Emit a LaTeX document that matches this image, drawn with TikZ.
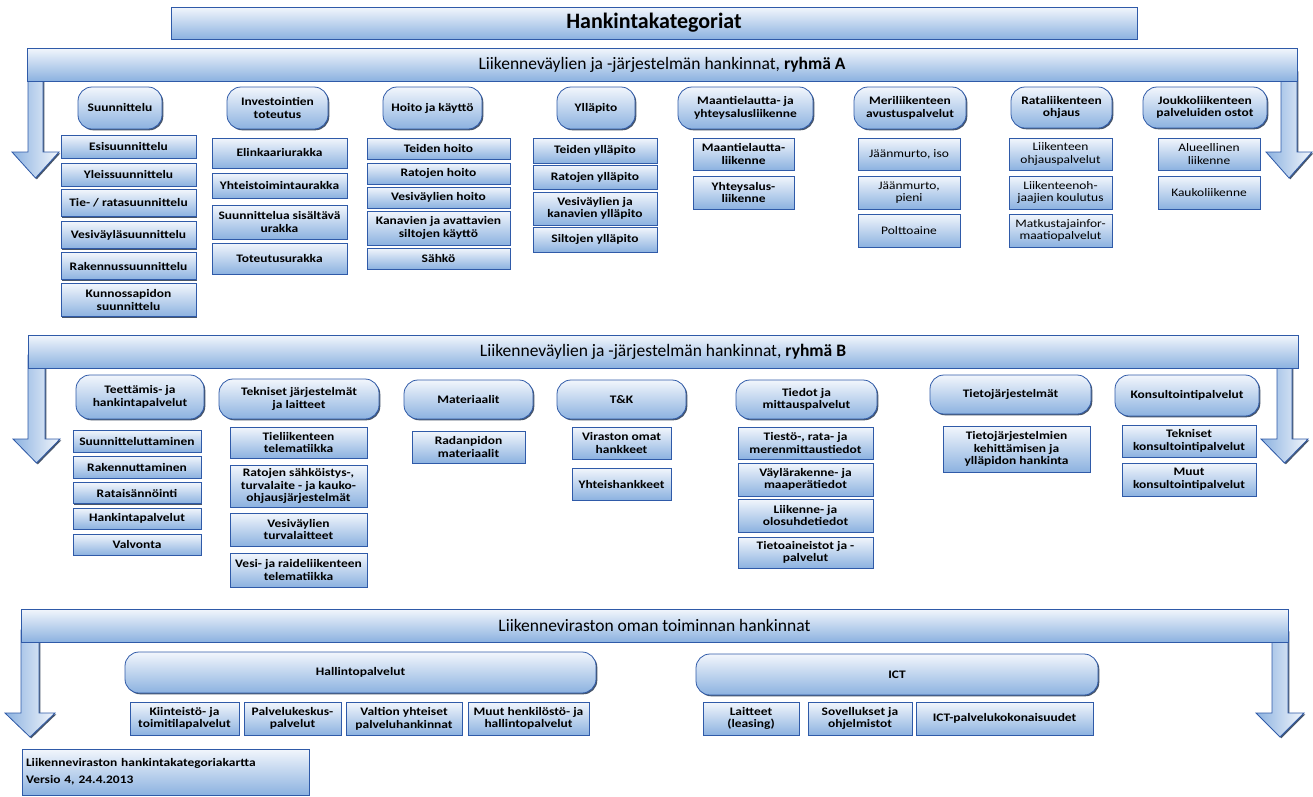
\documentclass[tikz,border=0pt]{standalone}
\usepackage{fontspec}
\setmainfont{Carlito}
\newfontfamily\widefont{Carlito}[FakeStretch=1.17]
\usetikzlibrary{shadows}
\definecolor{boxtop}{RGB}{242,246,252}
\definecolor{boxbot}{RGB}{140,178,224}
\definecolor{boxline}{RGB}{47,90,168}
\definecolor{boxshadow}{RGB}{72,86,106}

\begin{document}
\begin{tikzpicture}[x=1pt,y=-1pt]
	\tikzset{box/.style = {draw=boxline, line width=0.8pt, top color=boxtop, bottom color=boxbot,
			align=center, inner sep=1pt,
			drop shadow={shadow xshift=1.3pt, shadow yshift=-1.3pt, fill=boxshadow, opacity=1}}}
	\tikzset{sz/.style 2 args = {minimum width=#1pt, minimum height=#2pt}}
	\tikzset{bar/.style = {box, font=\fontsize{17.5}{20}\selectfont}}
	\tikzset{cat/.style = {box, rounded corners=14pt, font=\widefont\fontsize{11.5}{12.7}\selectfont\bfseries}}
	\tikzset{leaf/.style = {box, font=\widefont\fontsize{11.5}{12.7}\selectfont\bfseries}}
	\tikzset{leafr/.style = {box, font=\widefont\fontsize{11.5}{12.7}\selectfont}}
	\tikzset{bararrow/.style = {draw=boxline, line width=0.8pt, left color=boxbot, right color=boxtop,
			drop shadow={shadow xshift=1.3pt, shadow yshift=-1.3pt, fill=boxshadow, opacity=1}}}
	\useasboundingbox (0,0) rectangle (1313,796);
    % arrows at the ends of the bars
    \draw[bararrow] (28,70) -- (43,70) -- (43,152) -- (59,152) -- (35.5,178) -- (12,152) -- (28,152) -- cycle;
    \draw[bararrow] (1281,70) -- (1297,70) -- (1297,152) -- (1312,152) -- (1289,178) -- (1266,152) -- (1281,152) -- cycle;
    \draw[bararrow] (28,355) -- (45,355) -- (45,439) -- (60,439) -- (36.5,463) -- (13,439) -- (28,439) -- cycle;
    \draw[bararrow] (1277,355) -- (1292,355) -- (1292,439) -- (1308,439) -- (1284.5,463) -- (1261,439) -- (1277,439) -- cycle;
    \draw[bararrow] (21,630) -- (39,630) -- (39,713) -- (55,713) -- (30,737) -- (5,713) -- (21,713) -- cycle;
    \draw[bararrow] (1272,630) -- (1288,630) -- (1288,713) -- (1304,713) -- (1280,737) -- (1256,713) -- (1272,713) -- cycle;
    % bars
    \node[bar, sz={966}{32}, font=\fontsize{22}{24}\selectfont\bfseries] (title) at (654,23) {Hankintakategoriat};
    \node[bar, sz={1270}{33}] (barA) at (662,64.5) {Liikenneväylien ja -järjestelmän hankinnat, \textbf{ryhmä A}};
    \node[bar, sz={1270}{33}] (barB) at (663,351.5) {Liikenneväylien ja -järjestelmän hankinnat, \textbf{ryhmä B}};
    \node[bar, sz={1267}{33}] (barC) at (654.5,625.5) {Liikenneviraston oman toiminnan hankinnat};
    % group A
    \node[cat, sz={84}{42}] (suun) at (120,108) {Suunnittelu};
    \node[cat, sz={101}{42}] (inv) at (277.5,108) {Investointien\\toteutus};
    \node[cat, sz={99}{42}] (hoito) at (432.5,108) {Hoito ja käyttö};
    \node[cat, sz={78}{42}] (yllap) at (596,108) {Ylläpito};
    \node[cat, sz={135}{42}] (maant) at (745.5,108) {Maantielautta- ja\\yhteysalusliikenne};
    \node[cat, sz={112}{42}] (meri) at (910,108) {Meriliikenteen\\avustuspalvelut};
    \node[cat, sz={101}{41}] (rata) at (1061.5,107.5) {Rataliikenteen\\ohjaus};
    \node[cat, sz={124}{41}] (jouk) at (1205,107.5) {Joukkoliikenteen\\palveluiden ostot};
    \node[leaf, sz={135}{23}] (esi) at (128.5,146.5) {Esisuunnittelu};
    \node[leaf, sz={135}{23}] (yleis) at (128.5,174.5) {Yleissuunnittelu};
    \node[leaf, sz={135}{27}] (tie) at (128.5,203) {Tie- / ratasuunnittelu};
    \node[leaf, sz={135}{27}] (vesis) at (128.5,235) {Vesiväyläsuunnittelu};
    \node[leaf, sz={135}{27}] (raks) at (128.5,266) {Rakennussuunnittelu};
    \node[leaf, sz={135}{33}] (kunn) at (128.5,300) {Kunnossapidon\\suunnittelu};
    \node[leaf, sz={135}{30}] (elin) at (279.5,153) {Elinkaariurakka};
    \node[leaf, sz={135}{25}] (yhtu) at (279.5,185.5) {Yhteistoimintaurakka};
    \node[leaf, sz={135}{34}] (suunu) at (279.5,222) {Suunnittelua sisältävä\\urakka};
    \node[leaf, sz={135}{31}] (totu) at (279.5,258.5) {Toteutusurakka};
    \node[leaf, sz={143}{21}] (teidh) at (438.5,148.5) {Teiden hoito};
    \node[leaf, sz={143}{21}] (ratoh) at (438.5,173.5) {Ratojen hoito};
    \node[leaf, sz={143}{21}] (vesih) at (438.5,197.5) {Vesiväylien hoito};
    \node[leaf, sz={143}{34}] (kana) at (438.5,228) {Kanavien ja avattavien\\siltojen käyttö};
    \node[leaf, sz={143}{21}] (sahko) at (438.5,258.5) {Sähkö};
    \node[leaf, sz={124}{25}] (teidy) at (595,150.5) {Teiden ylläpito};
    \node[leaf, sz={124}{24}] (ratoy) at (595,177) {Ratojen ylläpito};
    \node[leaf, sz={124}{33}] (vesiy) at (595,208.5) {Vesiväylien ja\\kanavien ylläpito};
    \node[leaf, sz={124}{25}] (silty) at (595,239.5) {Siltojen ylläpito};
    \node[leaf, sz={101}{32}] (maal) at (743.5,154) {Maantielautta-\\liikenne};
    \node[leaf, sz={101}{33}] (yhtsl) at (743.5,192.5) {Yhteysalus-\\liikenne};
    \node[leafr, sz={102}{32}] (jiso) at (909,154) {Jäänmurto, iso};
    \node[leafr, sz={102}{33}] (jpie) at (909,192.5) {Jäänmurto,\\pieni};
    \node[leafr, sz={102}{33}] (polt) at (909,230.5) {Polttoaine};
    \node[leafr, sz={103}{32}] (liio) at (1060.5,154) {Liikenteen\\ohjauspalvelut};
    \node[leafr, sz={103}{33}] (liik) at (1060.5,192.5) {Liikenteenoh-\\jaajien koulutus};
    \node[leafr, sz={103}{33}] (matk) at (1060.5,230.5) {Matkustajainfor-\\maatiopalvelut};
    \node[leafr, sz={102}{32}] (alue) at (1209,154) {Alueellinen\\liikenne};
    \node[leafr, sz={102}{33}] (kauk) at (1209,192.5) {Kaukoliikenne};
    % group B
    \node[cat, sz={128}{44}] (teet) at (140,397) {Teettämis- ja\\hankintapalvelut};
    \node[cat, sz={160}{40}] (tekn) at (299,399) {Tekniset järjestelmät\\ja laitteet};
    \node[cat, sz={129}{39}] (mate) at (468.5,399.5) {Materiaalit};
    \node[cat, sz={129}{39}] (tk) at (621.5,399.5) {T\&K};
    \node[cat, sz={141}{39}] (tied) at (806.5,399.5) {Tiedot ja\\mittauspalvelut};
    \node[cat, sz={161}{39}] (tjar) at (1010.5,394.5) {Tietojärjestelmät};
    \node[cat, sz={144}{41}] (kons) at (1187,395.5) {Konsultointipalvelut};
    \node[leaf, sz={128}{22}] (suut) at (137,441) {Suunnitteluttaminen};
    \node[leaf, sz={128}{22}] (rakt) at (137,467) {Rakennuttaminen};
    \node[leaf, sz={128}{21}] (rati) at (137,493) {Rataisännöinti};
    \node[leaf, sz={128}{21}] (hankp) at (137,518.5) {Hankintapalvelut};
    \node[leaf, sz={128}{21}] (valv) at (137,544.5) {Valvonta};
    \node[leaf, sz={137}{31}] (tiel) at (298.5,442.5) {Tieliikenteen\\telematiikka};
    \node[leaf, sz={137}{42}] (ratsa) at (298.5,486) {Ratojen sähköistys-,\\turvalaite - ja kauko-\\ohjausjärjestelmät};
    \node[leaf, sz={137}{33}] (vest) at (298.5,529.5) {Vesiväylien\\turvalaitteet};
    \node[leaf, sz={137}{34}] (vesr) at (298.5,570) {Vesi- ja raideliikenteen\\telematiikka};
    \node[leaf, sz={113}{32}] (radm) at (468.5,447) {Radanpidon\\materiaalit};
    \node[leaf, sz={99}{32}] (viro) at (621.5,443) {Viraston omat\\hankkeet};
    \node[leaf, sz={99}{32}] (yhth) at (621.5,484) {Yhteishankkeet};
    \node[leaf, sz={135}{32}] (ties) at (805.5,443) {Tiestö-, rata- ja\\merenmittaustiedot};
    \node[leaf, sz={135}{33}] (vayl) at (805.5,479.5) {Väylärakenne- ja\\maaperätiedot};
    \node[leaf, sz={135}{33}] (olos) at (805.5,515.5) {Liikenne- ja\\olosuhdetiedot};
    \node[leaf, sz={135}{31}] (tiea) at (805.5,552.5) {Tietoaineistot ja -\\palvelut};
    \node[leaf, sz={147}{46}] (tjkh) at (1016.5,449) {Tietojärjestelmien\\kehittämisen ja\\ylläpidon hankinta};
    \node[leaf, sz={134}{32}] (tekk) at (1189,441) {Tekniset\\konsultointipalvelut};
    \node[leaf, sz={134}{33}] (muuk) at (1189,479.5) {Muut\\konsultointipalvelut};
    % group C
    \node[cat, sz={471}{41}] (hall) at (360.5,672.5) {Hallintopalvelut};
    \node[cat, sz={402}{41}] (ict) at (897,674.5) {ICT};
    \node[leaf, sz={109}{33}] (kiin) at (184.5,718.5) {Kiinteistö- ja\\toimitilapalvelut};
    \node[leaf, sz={97}{33}] (palk) at (292.5,718.5) {Palvelukeskus-\\palvelut};
    \node[leaf, sz={116}{33}] (valt) at (404,718.5) {Valtion yhteiset\\palveluhankinnat};
    \node[leaf, sz={121}{33}] (muuh) at (528.5,718.5) {Muut henkilöstö- ja\\hallintopalvelut};
    \node[leaf, sz={96}{33}] (lait) at (751,718.5) {Laitteet\\(leasing)};
    \node[leaf, sz={104}{33}] (sove) at (860,718.5) {Sovellukset ja\\ohjelmistot};
    \node[leaf, sz={177}{33}] (ictp) at (1004.5,718.5) {ICT-palvelukokonaisuudet};
    % footer
    \node[box, text width=279pt, minimum height=46pt, inner sep=4pt, align=left,
          font=\widefont\fontsize{11.5}{17}\selectfont\bfseries] (foot) at (165.5,772) {Liikenneviraston hankintakategoriakartta\\Versio 4, 24.4.2013};
\end{tikzpicture}
\end{document}
